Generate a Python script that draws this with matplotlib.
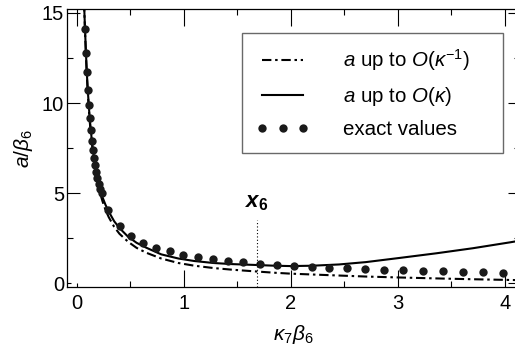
import matplotlib
matplotlib.use("Agg")
import matplotlib.pyplot as plt
from matplotlib.ticker import MultipleLocator

plt.rcParams['font.family'] = ['Liberation Sans', 'DejaVu Sans']
plt.rcParams['mathtext.fontset'] = 'custom'
plt.rcParams['mathtext.rm'] = 'Liberation Sans'
plt.rcParams['mathtext.it'] = 'Liberation Sans:italic'
plt.rcParams['mathtext.bf'] = 'Liberation Sans:bold'
plt.rcParams['mathtext.bfit'] = 'Liberation Sans:bold:italic'

# exact values (dots)
exact_x = [0.078, 0.087, 0.094, 0.103, 0.112, 0.121, 0.132, 0.142, 0.152, 0.162,
           0.172, 0.183, 0.194, 0.205, 0.220, 0.236, 0.296, 0.405, 0.507, 0.623,
           0.741, 0.872, 0.997, 1.137, 1.277, 1.417, 1.557, 1.713, 1.869, 2.034,
           2.196, 2.361, 2.523, 2.688, 2.866, 3.052, 3.234, 3.421, 3.604, 3.791, 3.978]
exact_y = [14.13, 12.78, 11.70, 10.74, 9.91, 9.15, 8.52, 7.92, 7.41, 6.96,
           6.54, 6.20, 5.83, 5.50, 5.22, 5.00, 4.07, 3.18, 2.63, 2.26,
           1.98, 1.79, 1.59, 1.48, 1.35, 1.26, 1.20, 1.07, 1.00, 0.96,
           0.89, 0.87, 0.83, 0.78, 0.76, 0.72, 0.70, 0.68, 0.64, 0.64, 0.59]

# a up to O(kappa)  (solid)
solid_x = [0.069, 0.078, 0.087, 0.095, 0.104, 0.113, 0.122, 0.132, 0.142, 0.152,
           0.162, 0.172, 0.183, 0.194, 0.205, 0.222, 0.240, 0.270, 0.300, 0.350,
           0.400, 0.480, 0.560, 0.650, 0.790, 0.950, 1.100, 1.280, 1.450, 1.680,
           1.850, 2.000, 2.200, 2.450, 2.700, 3.000, 3.360, 3.700, 4.050, 4.130]
solid_y = [15.6, 14.13, 12.78, 11.70, 10.74, 9.91, 9.15, 8.52, 7.92, 7.41,
           6.96, 6.54, 6.20, 5.83, 5.50, 5.15, 4.80, 4.35, 3.98, 3.45,
           3.07, 2.59, 2.25, 1.98, 1.61, 1.38, 1.24, 1.13, 1.07, 1.02,
           0.98, 0.96, 0.98, 1.05, 1.18, 1.40, 1.67, 1.95, 2.28, 2.36]

# a up to O(kappa^-1)  (dash-dot)
dd_x = [0.069, 0.078, 0.087, 0.095, 0.104, 0.113, 0.122, 0.132, 0.142, 0.152,
        0.162, 0.172, 0.183, 0.194, 0.205, 0.222, 0.240, 0.270, 0.300, 0.350,
        0.400, 0.480, 0.560, 0.650, 0.790, 0.950, 1.100, 1.280, 1.450, 1.680,
        1.850, 2.000, 2.300, 2.700, 3.000, 3.400, 3.700, 4.050, 4.130]
dd_y = [15.6, 14.0, 12.6, 11.55, 10.6, 9.75, 9.0, 8.35, 7.75, 7.25,
        6.8, 6.4, 6.02, 5.68, 5.37, 4.95, 4.58, 4.07, 3.67, 3.14,
        2.75, 2.31, 1.97, 1.70, 1.38, 1.13, 0.98, 0.85, 0.76, 0.66,
        0.59, 0.54, 0.47, 0.38, 0.33, 0.27, 0.23, 0.19, 0.18]

x6 = 1.68
x6_top = 3.5

labels = [r"$a$ up to $O(\kappa^{-1})$", r"$a$ up to $O(\kappa)$", "exact values"]

fig = plt.figure(figsize=(5.15, 3.5), dpi=100)
W, H = 515, 350
l, r, t, b = 67, 520, 9.3, 287
ax = fig.add_axes([l / W, 1 - b / H, (r - l) / W, (b - t) / H])

ax.plot(dd_x, dd_y, color='black', lw=1.5, dashes=(4.5, 1.8, 1.2, 1.8), label=labels[0])
ax.plot(solid_x, solid_y, color='black', lw=1.5, label=labels[1])
ax.plot(exact_x, exact_y, 'o', color='#1a1a1a', ms=6, mec='none', label=labels[2])

ax.plot([x6, x6], [-0.2, x6_top], color='black', lw=0.8, ls=(0, (1, 2)))
ax.text(x6, 4.5, r"$\mathbfit{x}_{\mathbf{6}}$", ha='center', va='center', fontsize=16)

ax.set_xlim(-0.09, 4.14)
ax.set_ylim(-0.2, 15.2)

ax.xaxis.set_major_locator(MultipleLocator(1))
ax.xaxis.set_minor_locator(MultipleLocator(0.5))
ax.yaxis.set_major_locator(MultipleLocator(5))
ax.yaxis.set_minor_locator(MultipleLocator(2.5))

ax.tick_params(axis='both', which='both', direction='in', top=True, right=True,
               width=0.8, labelsize=14.5)
ax.tick_params(axis='x', which='major', length=12, pad=5)
ax.tick_params(axis='x', which='minor', length=4.5)
ax.tick_params(axis='y', which='major', length=9, pad=2)
ax.tick_params(axis='y', which='minor', length=4.5)
for s in ax.spines.values():
    s.set_linewidth(0.9)

ax.set_xlabel(r"$\kappa_7\beta_6$", fontsize=15, labelpad=7)
ax.set_ylabel(r"$a/\beta_6$", fontsize=15, labelpad=5)

leg = ax.legend(loc='upper left', bbox_to_anchor=(0.386, 0.481, 0.576, 0.433), mode='expand',
                fontsize=14.8, frameon=True, fancybox=False, numpoints=3,
                handlelength=2.6, handletextpad=1.65, labelspacing=0.58,
                borderpad=0.68, borderaxespad=0)
leg.get_frame().set_edgecolor('#444444')
leg.get_frame().set_linewidth(1.0)

# shorter ticks at the origin, as in the reference
fig.canvas.draw()
for tk in ax.xaxis.get_major_ticks():
    if abs(tk.get_loc()) < 1e-9:
        tk.tick1line.set_markersize(3)
for tk in ax.yaxis.get_major_ticks():
    if abs(tk.get_loc()) < 1e-9:
        tk.tick1line.set_markersize(3)

fig.savefig("out.png", dpi=100)
